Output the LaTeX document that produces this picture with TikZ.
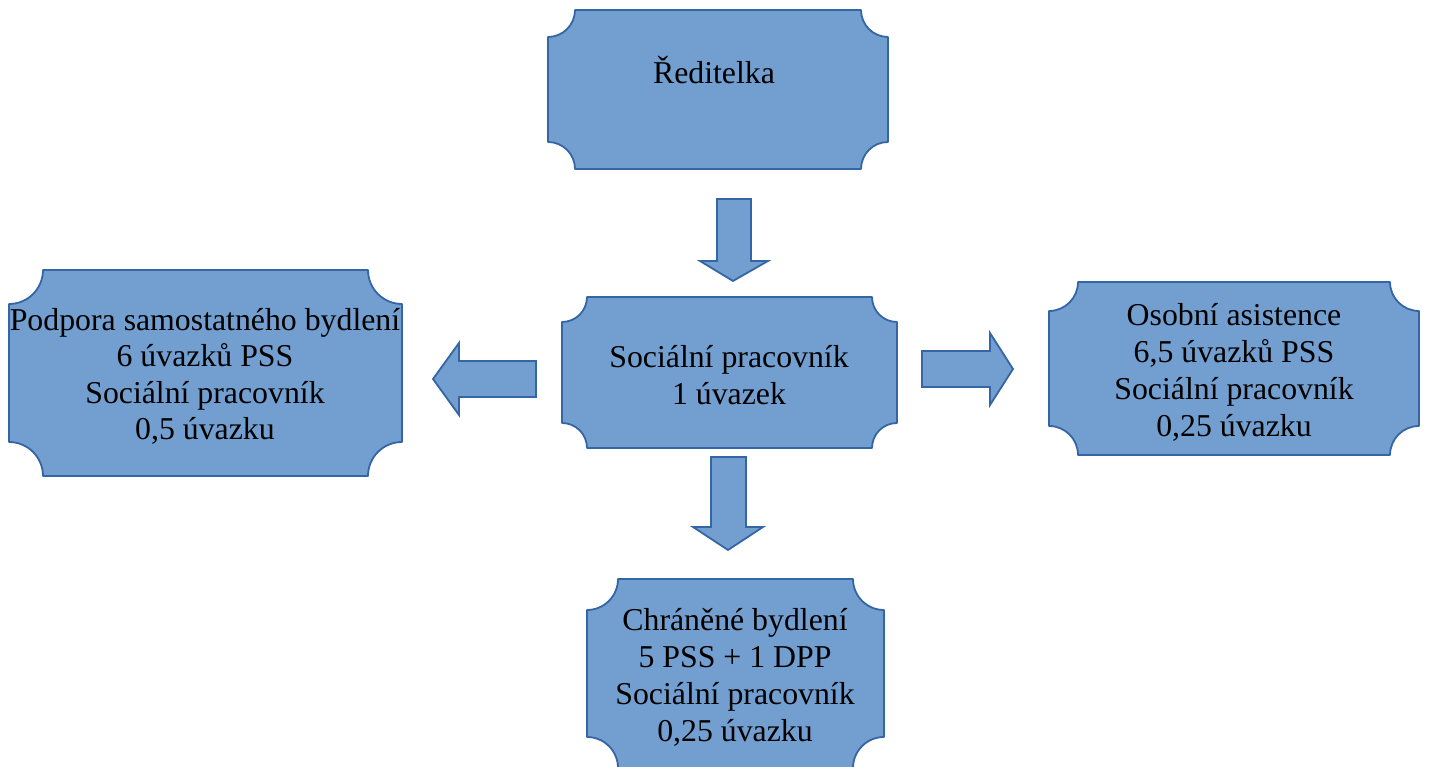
\documentclass[tikz,border=0pt]{standalone}
\usepackage{fontspec}
\setmainfont{Liberation Serif}
\usetikzlibrary{calc}
\definecolor{boxfill}{HTML}{729FCF}
\definecolor{boxline}{HTML}{3465A4}
\tikzset{
  area/.style={rectangle, inner sep=0pt, outer sep=0pt},
  plaqueline/.style={draw=boxline, fill=boxfill, line width=1.8pt, line join=round},
  label/.style={align=center, inner sep=0pt, font=\fontsize{31.8}{36.5}\selectfont, text=black},
  labelwide/.style={label, font=\fontsize{31.8}{37}\selectfont},
  blockarrow/.style={draw=boxline, fill=boxfill, line width=1.8pt, line join=miter}
}
\newcommand\plaq[2]{%
  \path[plaqueline] let \p1=(#1.south west), \p2=(#1.north east) in
    (\x1+#2,\y2) -- (\x2-#2,\y2) arc[start angle=180,end angle=270,radius=#2]
    -- (\x2,\y1+#2) arc[start angle=90,end angle=180,radius=#2]
    -- (\x1+#2,\y1) arc[start angle=0,end angle=90,radius=#2]
    -- (\x1,\y2-#2) arc[start angle=270,end angle=360,radius=#2] -- cycle;}
\begin{document}
\begin{tikzpicture}[x=1pt,y=1pt]
\useasboundingbox (0,0) rectangle (1429,767);
% box areas
\node[area, minimum width=340pt, minimum height=159pt] (dir) at (718,677.5) {};
\node[area, minimum width=393pt, minimum height=206pt] (left) at (205.5,394) {};
\node[area, minimum width=335pt, minimum height=151pt] (soc) at (729.5,394.5) {};
\node[area, minimum width=370pt, minimum height=173pt] (right) at (1234,398.5) {};
\node[area, minimum width=297pt, minimum height=189pt] (bottom) at (735.5,93.5) {};
% plaques
\plaq{dir}{27pt}
\plaq{left}{34pt}
\plaq{soc}{25pt}
\plaq{right}{29pt}
\plaq{bottom}{31pt}
% texts
\node[label] (tdir) at (714,697) {Ředitelka};
\node[label] (tleft) at (205,390.5) {Podpora samostatného bydlení\\6 úvazků PSS\\Sociální pracovník\\0,5 úvazku};
\node[label] (tsoc) at (729,392) {Sociální pracovník\\1 úvazek};
\node[labelwide] (tright) at (1234,394.5) {Osobní asistence\\6,5 úvazků PSS\\Sociální pracovník\\0,25 úvazku};
\node[labelwide] (tbottom) at (735,89.5) {Chráněné bydlení\\5 PSS + 1 DPP\\Sociální pracovník\\0,25 úvazku};
% block arrows
\coordinate (a1) at (733,486);
\draw[blockarrow] (a1) -- ++(-33,20) -- ++(17,0) -- ++(0,62) -- ++(34,0) -- ++(0,-62) -- ++(17,0) -- cycle;
\coordinate (a2) at (433,388);
\draw[blockarrow] (a2) -- ++(26,36) -- ++(0,-18) -- ++(77,0) -- ++(0,-36) -- ++(-77,0) -- ++(0,-18) -- cycle;
\coordinate (a3) at (1013,398);
\draw[blockarrow] (a3) -- ++(-23,36) -- ++(0,-18) -- ++(-68,0) -- ++(0,-36) -- ++(68,0) -- ++(0,-18) -- cycle;
\coordinate (a4) at (728,217);
\draw[blockarrow] (a4) -- ++(-35,23) -- ++(18,0) -- ++(0,70) -- ++(35,0) -- ++(0,-70) -- ++(17,0) -- cycle;
\end{tikzpicture}
\end{document}
